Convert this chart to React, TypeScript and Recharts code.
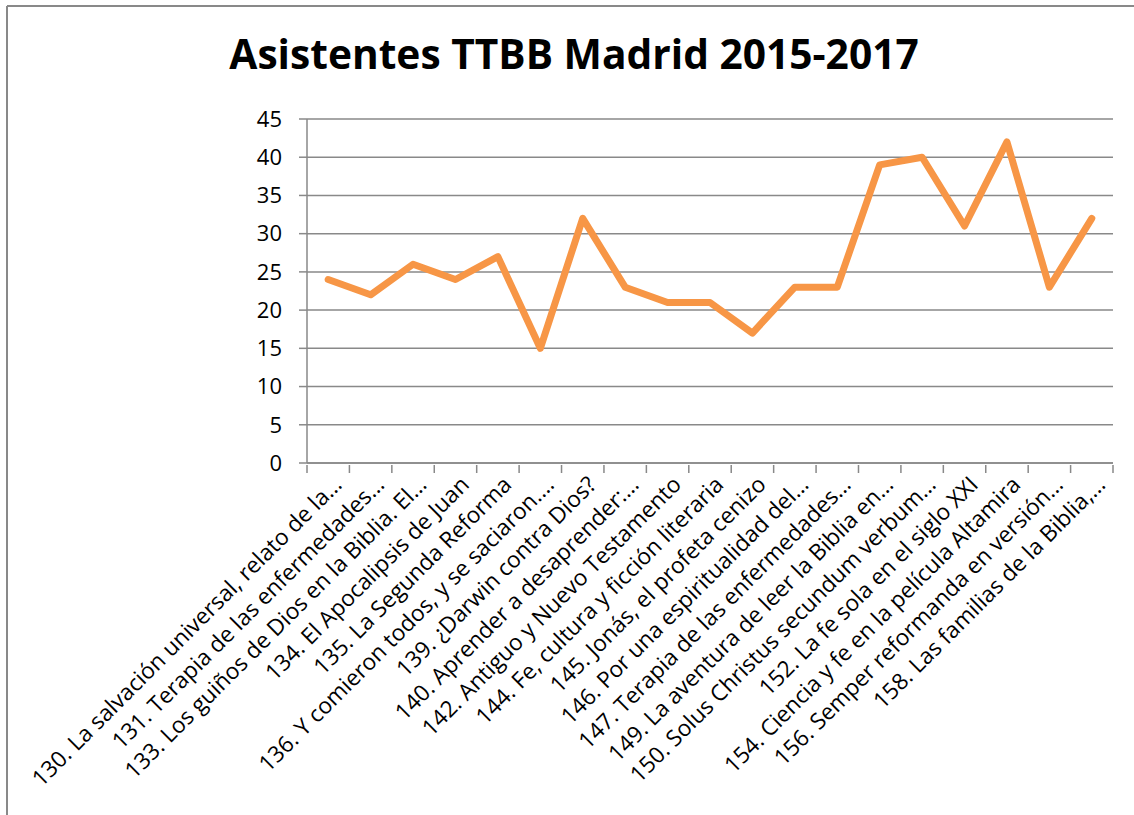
import { CartesianGrid, Line, LineChart, XAxis, YAxis } from "recharts";

// attendance per session
const sessions = [
	"130. La salvación universal, relato de la…",
	"131. Terapia de las enfermedades…",
	"133. Los guiños de Dios en la Biblia. El…",
	"134. El Apocalipsis de Juan",
	"135. La Segunda Reforma",
	"136. Y comieron todos, y se saciaron.…",
	"139. ¿Darwin contra Dios?",
	"140. Aprender a desaprender:…",
	"142. Antiguo y Nuevo Testamento",
	"144. Fe, cultura y ficción literaria",
	"145. Jonás, el profeta cenizo",
	"146. Por una espiritualidad del…",
	"147. Terapia de las enfermedades…",
	"149. La aventura de leer la Biblia en…",
	"150. Solus Christus secundum verbum…",
	"152. La fe sola en el siglo XXI",
	"154. Ciencia y fe en la película Altamira",
	"156. Semper reformanda en versión…",
	"158. Las familias de la Biblia,…",
];
const asistentes = [24, 22, 26, 24, 27, 15, 32, 23, 21, 21, 17, 23, 23, 39, 40, 31, 42, 23, 32];
const yTicks = [0, 5, 10, 15, 20, 25, 30, 35, 40, 45];

const chartData = sessions.map((label, i) => ({ label, value: asistentes[i] }));

const FONT = "'Open Sans', sans-serif";
const GRID = "#898989";
const HALF = 21.2; // half a category band

const SessionTick = (props: any) => {
	const { x, y, payload, index } = props;
	const last = index === sessions.length - 1;
	return (
		<g>
			<line x1={x - HALF} y1={y - 8} x2={x - HALF} y2={y} stroke={GRID} strokeWidth={1.5} />
			{last && <line x1={x + HALF} y1={y - 8} x2={x + HALF} y2={y} stroke={GRID} strokeWidth={1.5} />}
			<g transform={`translate(${x + 15},${y + 13}) rotate(-45)`}>
				<text x={0} y={0} textAnchor="end" fill="#000" fontSize={22.6} fontFamily={FONT}>
					{payload.value}
				</text>
			</g>
		</g>
	);
};

export default function App() {
	return (
		<div style={{ position: "absolute", left: 0, top: 0, width: 1134, height: 815, overflow: "hidden", background: "#fff" }}>
			<svg width={1134} height={815} style={{ position: "absolute", left: 0, top: 0 }}>
				{/* chart frame: only top and left edges show in the crop */}
				<line x1={7} y1={6} x2={1134} y2={6} stroke={GRID} strokeWidth={2} />
				<line x1={7} y1={6} x2={7} y2={815} stroke={GRID} strokeWidth={2} />
				<text x={574} y={69} textAnchor="middle" fontSize={40.7} fontWeight="bold" fontFamily={FONT} fill="#000">
					Asistentes TTBB Madrid 2015-2017
				</text>
			</svg>
			<div style={{ position: "absolute", left: 0, top: 0 }}>
				<LineChart width={1134} height={815} data={chartData} margin={{ top: 119, right: 21, bottom: 12, left: 247 }}>
					<CartesianGrid vertical={false} stroke={GRID} strokeWidth={1.5} />
					<XAxis
						dataKey="label"
						interval={0}
						height={340}
						padding={{ left: HALF, right: HALF }}
						axisLine={{ stroke: GRID, strokeWidth: 1.5 }}
						tickLine={false}
						tickSize={8}
						tick={<SessionTick />}
					/>
					<YAxis
						width={60}
						domain={[0, 45]}
						ticks={yTicks}
						interval={0}
						axisLine={{ stroke: GRID, strokeWidth: 1.5 }}
						tickLine={{ stroke: GRID, strokeWidth: 1.5 }}
						tickSize={8}
						tickMargin={17}
						tick={{ fill: "#000", fontSize: 22, fontFamily: FONT }}
					/>
					<Line
						type="linear"
						dataKey="value"
						stroke="#F79646"
						strokeWidth={7}
						strokeLinejoin="round"
						strokeLinecap="round"
						dot={false}
						activeDot={false}
						isAnimationActive={false}
					/>
				</LineChart>
			</div>
		</div>
	);
}
